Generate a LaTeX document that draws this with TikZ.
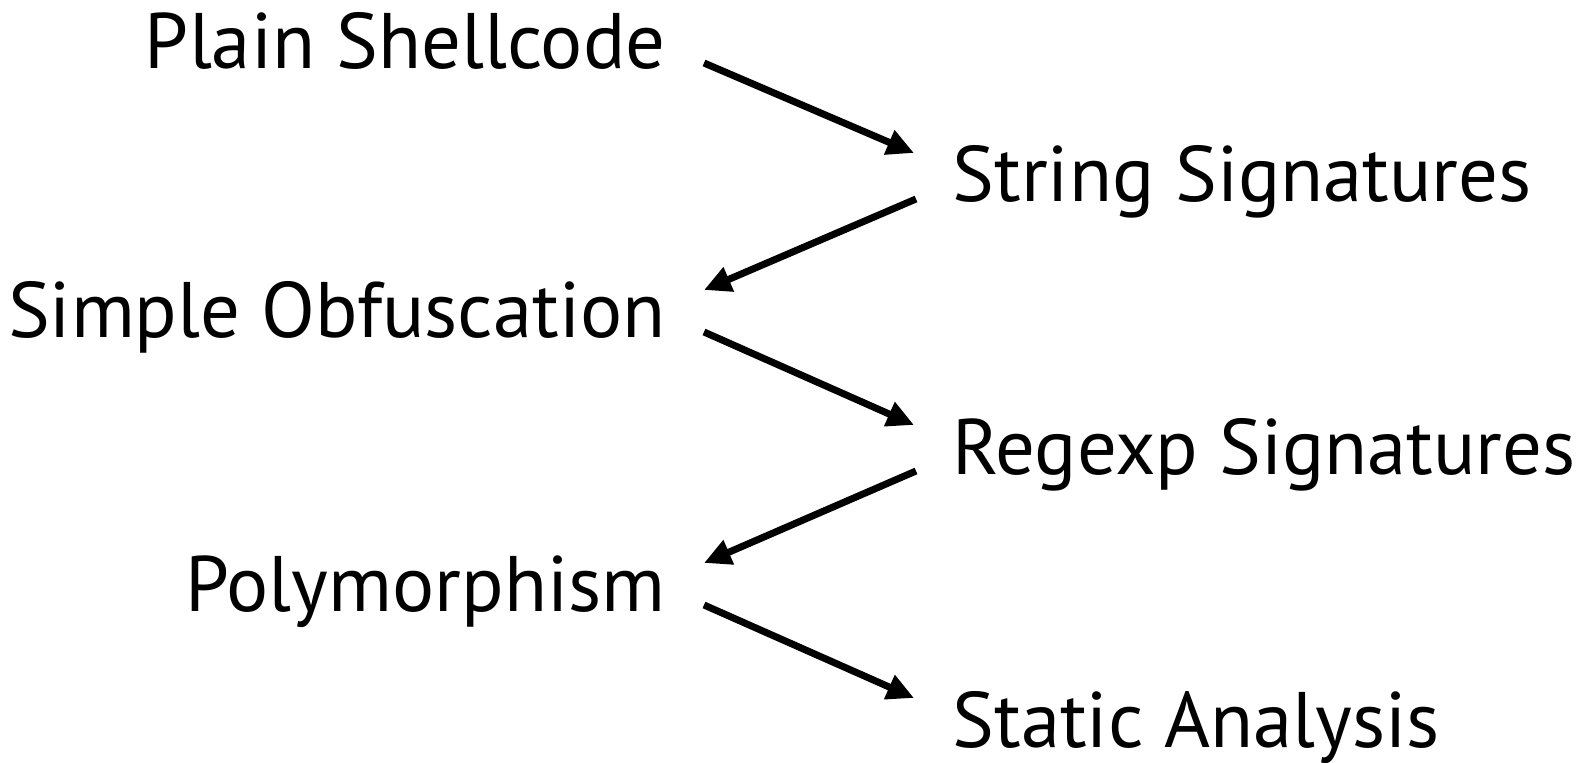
\documentclass[tikz,border=0pt]{standalone}
\usepackage{fontspec}
\setmainfont{PT Sans}
\usetikzlibrary{positioning,arrows.meta}
\tikzstyle{stageLeft} = [anchor=base east, inner sep=0pt, font=\fontsize{22.4}{26}\selectfont]
\tikzstyle{stageRight} = [anchor=base west, inner sep=0pt, font=\fontsize{22.4}{26}\selectfont]
\tikzstyle{stageArrow} = [line width=0.07cm, -{Triangle[length=0.27cm, width=0.25cm]}]
\newcommand{\leftToRight}[2]{\draw [stageArrow] ([xshift=0.38cm, yshift=0.06cm]#1.base east) -- ([xshift=-0.38cm, yshift=0.49cm]#2.base west);}
\newcommand{\rightToLeft}[2]{\draw [stageArrow] ([xshift=-0.36cm, yshift=0.03cm]#1.base west) -- ([xshift=0.38cm, yshift=0.48cm]#2.base east);}
\begin{document}
\begin{tikzpicture}
        \useasboundingbox (0,0) rectangle (15.83,-7.63);

        \node [stageLeft] (plain) at (6.66,-0.69) {Plain Shellcode};
        \node [stageRight] (string) at (9.52,-2.02) {String Signatures};
        \node [stageLeft] (simple) at (6.66,-3.38) {Simple Obfuscation};
        \node [stageRight] (regexp) at (9.52,-4.74) {Regexp Signatures};
        \node [stageLeft] (poly) at (6.66,-6.11) {Polymorphism};
        \node [stageRight] (static) at (9.52,-7.47) {Static Analysis};

        \leftToRight{plain}{string}
        \rightToLeft{string}{simple}
        \leftToRight{simple}{regexp}
        \rightToLeft{regexp}{poly}
        \leftToRight{poly}{static}
      \end{tikzpicture}
\end{document}
